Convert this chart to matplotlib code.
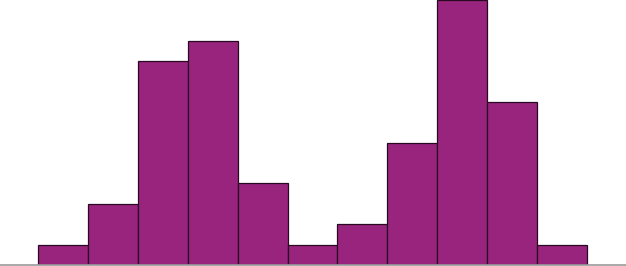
import numpy as np
import matplotlib.pyplot as plt

# histogram counts per bin
counts = [1, 3, 10, 11, 4, 1, 2, 6, 13, 8, 1]
edges = np.arange(len(counts) + 1)

fig = plt.figure(figsize=(6.26, 2.66), dpi=100)
ax = fig.add_axes([0, 1.0 / 266, 1, 265.0 / 266])

ax.hist(edges[:-1], bins=edges, weights=counts, color='#98247e',
        edgecolor='#2a0a22', linewidth=0.9)

ax.set_xlim(-38 / 49.9, (626 - 38) / 49.9)
ax.set_ylim(0, 13)
for s in ['top', 'right', 'left']:
    ax.spines[s].set_visible(False)
ax.spines['bottom'].set_color('#999999')
ax.spines['bottom'].set_linewidth(1.2)
ax.set_xticks([])
ax.set_yticks([])

fig.savefig('out.png', dpi=100)
